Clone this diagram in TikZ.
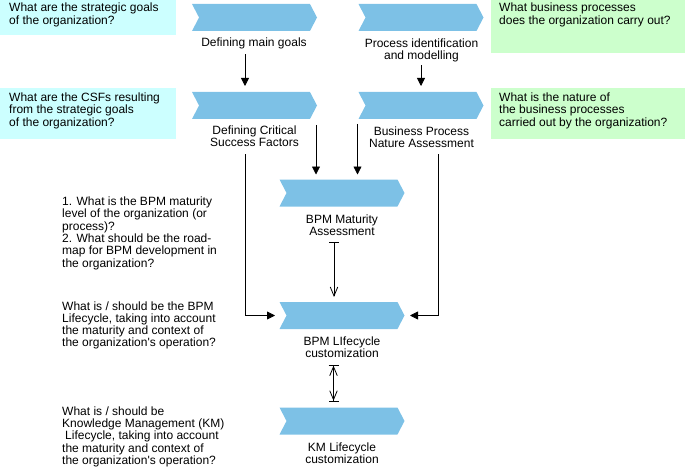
\documentclass[tikz,border=0pt]{standalone}
\usepackage{fontspec}
\setmainfont{Liberation Sans}
\usetikzlibrary{arrows.meta,shapes.symbols,calc}
\definecolor{chev}{HTML}{7DC1E6}
\definecolor{qcyan}{HTML}{CCFFFF}
\definecolor{qgreen}{HTML}{CCFFCC}
\begin{document}
\begin{tikzpicture}[x=1pt,y=-1pt,
  chevron/.style={signal, signal to=east, signal from=west, signal pointer angle=125,
    fill=chev, draw=none, minimum width=125pt, minimum height=27pt, inner sep=0pt, outer sep=0pt},
  lbl/.style={align=center, inner sep=0pt, anchor=base, font=\fontsize{12}{12}\selectfont},
  qtxt/.style={align=left, inner sep=0pt, anchor=base west, font=\fontsize{12}{12.3}\selectfont},
  btxt/.style={align=left, inner sep=0pt, anchor=base west, font=\fontsize{12}{12.6}\selectfont},
  qbox/.style={rectangle, inner sep=0pt, outer sep=0pt, draw=none, anchor=north west},
  conn/.style={line width=0.8pt, draw=black},
  arrF/.style={conn, -{Triangle[length=8pt,width=8pt]}},
  arrT/.style={conn, {Bar[width=10pt]}-{Straight Barb[length=9pt,width=7.5pt]}},
  arrD/.style={conn, {Bar[width=10pt]Straight Barb[length=9pt,width=7.5pt]}-{Straight Barb[length=9pt,width=7.5pt]Bar[width=10pt]}}
]
\useasboundingbox (0,0) rectangle (685,468);

% question boxes
\node[qbox, fill=qcyan, minimum width=176pt, minimum height=35pt] (b1) at (0,0) {};
\node[qbox, fill=qcyan, minimum width=176pt, minimum height=51pt] (b2) at (0,88) {};
\node[qbox, fill=qgreen, minimum width=194pt, minimum height=53pt] (b3) at (491,0) {};
\node[qbox, fill=qgreen, minimum width=194pt, minimum height=51pt] (b4) at (491,88) {};

% (anchor = baseline of the last line)
\node[btxt] (t1) at (9,24.5) {What are the strategic goals\\of the organization?};
\node[btxt] (t2) at (9,126.5) {What are the CSFs resulting\\from the strategic goals\\of the organization?};
\node[btxt] (t3) at (499,24.5) {What business processes\\does the organization carry out?};
\node[btxt] (t4) at (499,126.5) {What is the nature of\\the business processes\\carried out by the organization?};

% chevrons
\node[chevron] (c1) at (254.5,17.5) {};
\node[chevron] (c2) at (254.5,105.5) {};
\node[chevron] (c3) at (421,17.5) {};
\node[chevron] (c4) at (421,105.5) {};
\node[chevron] (c5) at (342,193) {};
\node[chevron] (c6) at (342,315.5) {};
\node[chevron] (c7) at (342,421) {};

% labels
\node[lbl] (l1) at (254,47) {Defining main goals};
\node[lbl] (l2) at (254.5,146.5) {Defining Critical\\Success Factors};
\node[lbl] (l3) at (421.5,60) {Process identification\\and modelling};
\node[lbl] (l4) at (421.5,147.5) {Business Process\\Nature Assessment};
\node[lbl] (l5) at (342,235.5) {BPM Maturity\\Assessment};
\node[lbl] (l6) at (342,357) {BPM LIfecycle\\customization};
\node[lbl] (l7) at (342,463) {KM Lifecycle\\customization};

% left questions
\node[qtxt] (q1) at (62,267) {1. What is the BPM maturity\\level of the organization (or\\process)?\\2. What should be the road-\\map for BPM development in\\the organization?};
\node[qtxt] (q2) at (62,346.9) {What is / should be the BPM\\Lifecycle, taking into account\\the maturity and context of\\the organization\textquotesingle s operation?};
\node[qtxt] (q3) at (62,464.5) {What is / should be\\Knowledge Management (KM)\\\hspace*{3pt}Lifecycle, taking into account\\the maturity and context of\\the organization\textquotesingle s operation?};

% connectors
\draw[arrF] ($(l1.south)+(-9,4.5)$) -- ($(c2.north)+(-9.5,-6)$);
\draw[arrF] ($(l3.south)+(-0.5,2.5)$) -- ($(c4.north)+(0,-6)$);
\draw[arrF] ($(c2.south)+(61.5,6)$) -- ($(c5.north)+(-26,-5)$);
\draw[arrF] ($(c4.south)+(-63.5,5)$) -- ($(c5.north)+(15.5,-5)$);
\draw[arrF] ($(l2.south)+(-9.5,7.3)$) |- ($(c6.center)+(-67,0)$);
\draw[arrF] ($(l4.south)+(16.5,6.3)$) |- ($(c6.center)+(68,0)$);
\draw[arrT] ($(l5.south)+(-8,6.5)$) -- ($(c6.north)+(-8,-5)$);
\draw[arrD] ($(l6.south)+(-8.5,7.5)$) -- ($(c7.north)+(-8.5,-6)$);
\end{tikzpicture}
\end{document}
